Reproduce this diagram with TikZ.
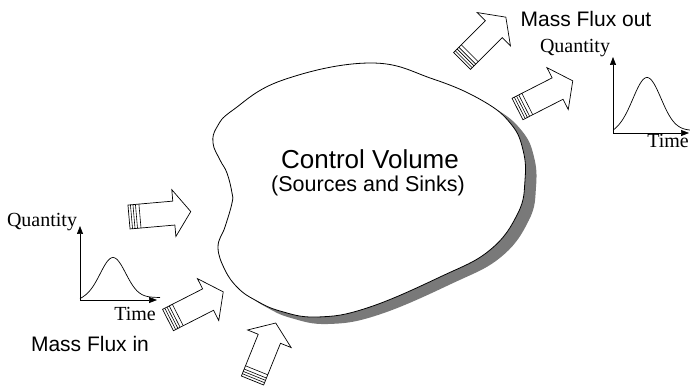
\documentclass[tikz,border=0pt]{standalone}
\usepackage{fontspec}
\setmainfont{Liberation Serif}
\setsansfont{Liberation Sans}
\usetikzlibrary{arrows.meta}
\begin{document}
\begin{tikzpicture}[x=1pt,y=-1pt,
  blk/.style={draw=black,line width=0.7pt,fill=white,line join=miter},
  axisline/.style={line width=0.7pt,-{Triangle[length=8pt,width=6pt]}},
  curveline/.style={line width=0.7pt},
  lbl/.style={font=\sffamily\fontsize{21}{24}\selectfont,anchor=base,inner sep=0pt},
  ser/.style={font=\rmfamily\fontsize{20}{24}\selectfont,anchor=base,inner sep=0pt},
  pics/flowarrow/.style={code={
    \draw[blk] (0,-12) -- (45,-12) -- (45,-23.5) -- (62,0) -- (45,23.5) -- (45,12) -- (0,12) -- cycle;
    \foreach \t in {2.5,5,7.5,11} \draw[line width=0.6pt] (\t,-12) -- (\t,12);
  }}]
\useasboundingbox (0,0) rectangle (690,387);
\def\blobpts{(370,63) (433,79) (483,101) (511,124) (523,150) (525,180) (518,213) (490,250) (440,277) (367,308) (317,317) (280,311) (255,300) (238,288) (225,270) (218,247) (225,227) (232,203) (232,193) (227,173) (220,160) (213,143) (217,127) (233,110) (283,80)}
% shadow
\fill[gray!95!black, shift={(11,7)}] plot[smooth cycle, tension=0.7] coordinates {\blobpts};
% blob
\draw[line width=0.8pt, fill=white] plot[smooth cycle, tension=0.7] coordinates {\blobpts};
\node[font=\sffamily\fontsize{26}{30}\selectfont, anchor=base, inner sep=0pt] (cv) at (370,169) {Control Volume};
\node[font=\sffamily\fontsize{21.5}{26}\selectfont, anchor=base, inner sep=0pt] (ss) at (368,192) {(Sources and Sinks)};
% arrows
\pic[rotate=5] at (129,217) {flowarrow};
\pic[rotate=27] at (168,320) {flowarrow};
\pic[rotate=68] at (252.5,380.5) {flowarrow};
\pic[rotate=45] at (462,61) {flowarrow};
\pic[rotate=27] at (517.5,109) {flowarrow};
% left graph
\coordinate (o1) at (80,300);
\coordinate (y1) at (80,226);
\coordinate (x1) at (157,300);
\draw[axisline] (o1) -- (y1);
\draw[axisline] (o1) -- (x1);
\draw[curveline] plot[domain=80:160, samples=90] (\x, {300 - 40*exp(-((\x-113)^2)/(2*12.7^2)) - 2.5*(1-exp(-(\x-80)/8))});
\node[ser] (q1) at (42,227) {Quantity};
\node[ser] (t1) at (135,320) {Time};
\node[lbl] (mfin) at (90,351) {Mass Flux in};
% right graph
\coordinate (o2) at (613,133);
\coordinate (y2) at (613,57);
\coordinate (x2) at (689,133);
\draw[axisline] (o2) -- (y2);
\draw[axisline] (o2) -- (x2);
\draw[curveline] plot[domain=613:690, samples=90] (\x, {133 - 53*exp(-((\x-647)^2)/(2*14^2)) - 2.5*(1-exp(-(\x-613)/8))});
\node[ser] (q2) at (575,53) {Quantity};
\node[ser] (t2) at (668,148) {Time};
\node[lbl] (mfout) at (586,27) {Mass Flux out};
\end{tikzpicture}
\end{document}
